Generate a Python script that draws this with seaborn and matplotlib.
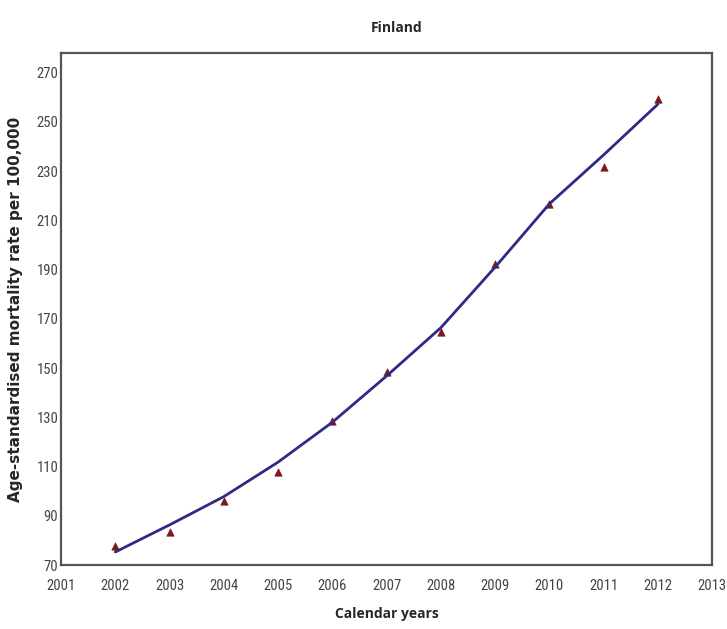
import matplotlib
matplotlib.use("Agg")
import matplotlib.pyplot as plt
from matplotlib import font_manager
import pandas as pd
import seaborn as sns

# observed rates and fitted trend
years = [2002, 2003, 2004, 2005, 2006, 2007, 2008, 2009, 2010, 2011, 2012]
observed = [77.7, 83.6, 96.0, 107.8, 128.6, 148.5, 164.8, 192.2, 216.7, 231.8, 259.3]
fitted = [75.3, 86.3, 97.8, 111.8, 128.0, 146.8, 166.4, 191.0, 216.7, 236.6, 257.2]

x_ticks = list(range(2001, 2014))
y_ticks = list(range(70, 271, 20))

df = pd.DataFrame({"year": years, "observed": observed, "fitted": fitted})

sns.set_style("white")

# condensed face for the tick numbers
names = {f.name for f in font_manager.fontManager.ttflist}
narrow_prop = font_manager.FontProperties(family="DejaVu Sans", stretch="condensed", size=10.5)
for cand in ["Liberation Sans Narrow", "Roboto Condensed", "Open Sans Condensed"]:
    if cand in names:
        narrow_prop = font_manager.FontProperties(family=cand, size=10.5)
        break

fig = plt.figure(figsize=(7.27, 6.29), dpi=100)
ax = fig.add_axes([0.084, 0.1017, 0.8955, 0.814])

sns.scatterplot(data=df, x="year", y="observed", marker="^", s=28,
                color="#7a1a1a", edgecolor="#7a1a1a", linewidth=0.5, ax=ax, zorder=2)
sns.lineplot(data=df, x="year", y="fitted", color="#2e2a86", linewidth=2.0, ax=ax, zorder=3)

ax.set_xlim(2001, 2013)
ax.set_ylim(70, 278)
ax.set_xticks(x_ticks)
ax.set_yticks(y_ticks)
ax.set_xticklabels([str(t) for t in x_ticks], fontproperties=narrow_prop, color="#444444")
ax.set_yticklabels([str(t) for t in y_ticks], fontproperties=narrow_prop, color="#444444")
ax.tick_params(axis="x", length=0, pad=10)
ax.tick_params(axis="y", length=0, pad=2)

for side in ax.spines.values():
    side.set_color("#555555")
    side.set_linewidth(1.6)

ax.set_xlabel("Calendar years", fontsize=10, fontweight="bold", family="Open Sans", labelpad=10)
ax.set_ylabel("Age-standardised mortality rate per 100,000", fontsize=11,
              fontweight="bold", family="DejaVu Sans", labelpad=10)
fig.text(0.545, 0.955, "Finland", ha="center", va="center", fontsize=10,
         fontweight="bold", family="Open Sans")

fig.savefig("out.png", dpi=100)
